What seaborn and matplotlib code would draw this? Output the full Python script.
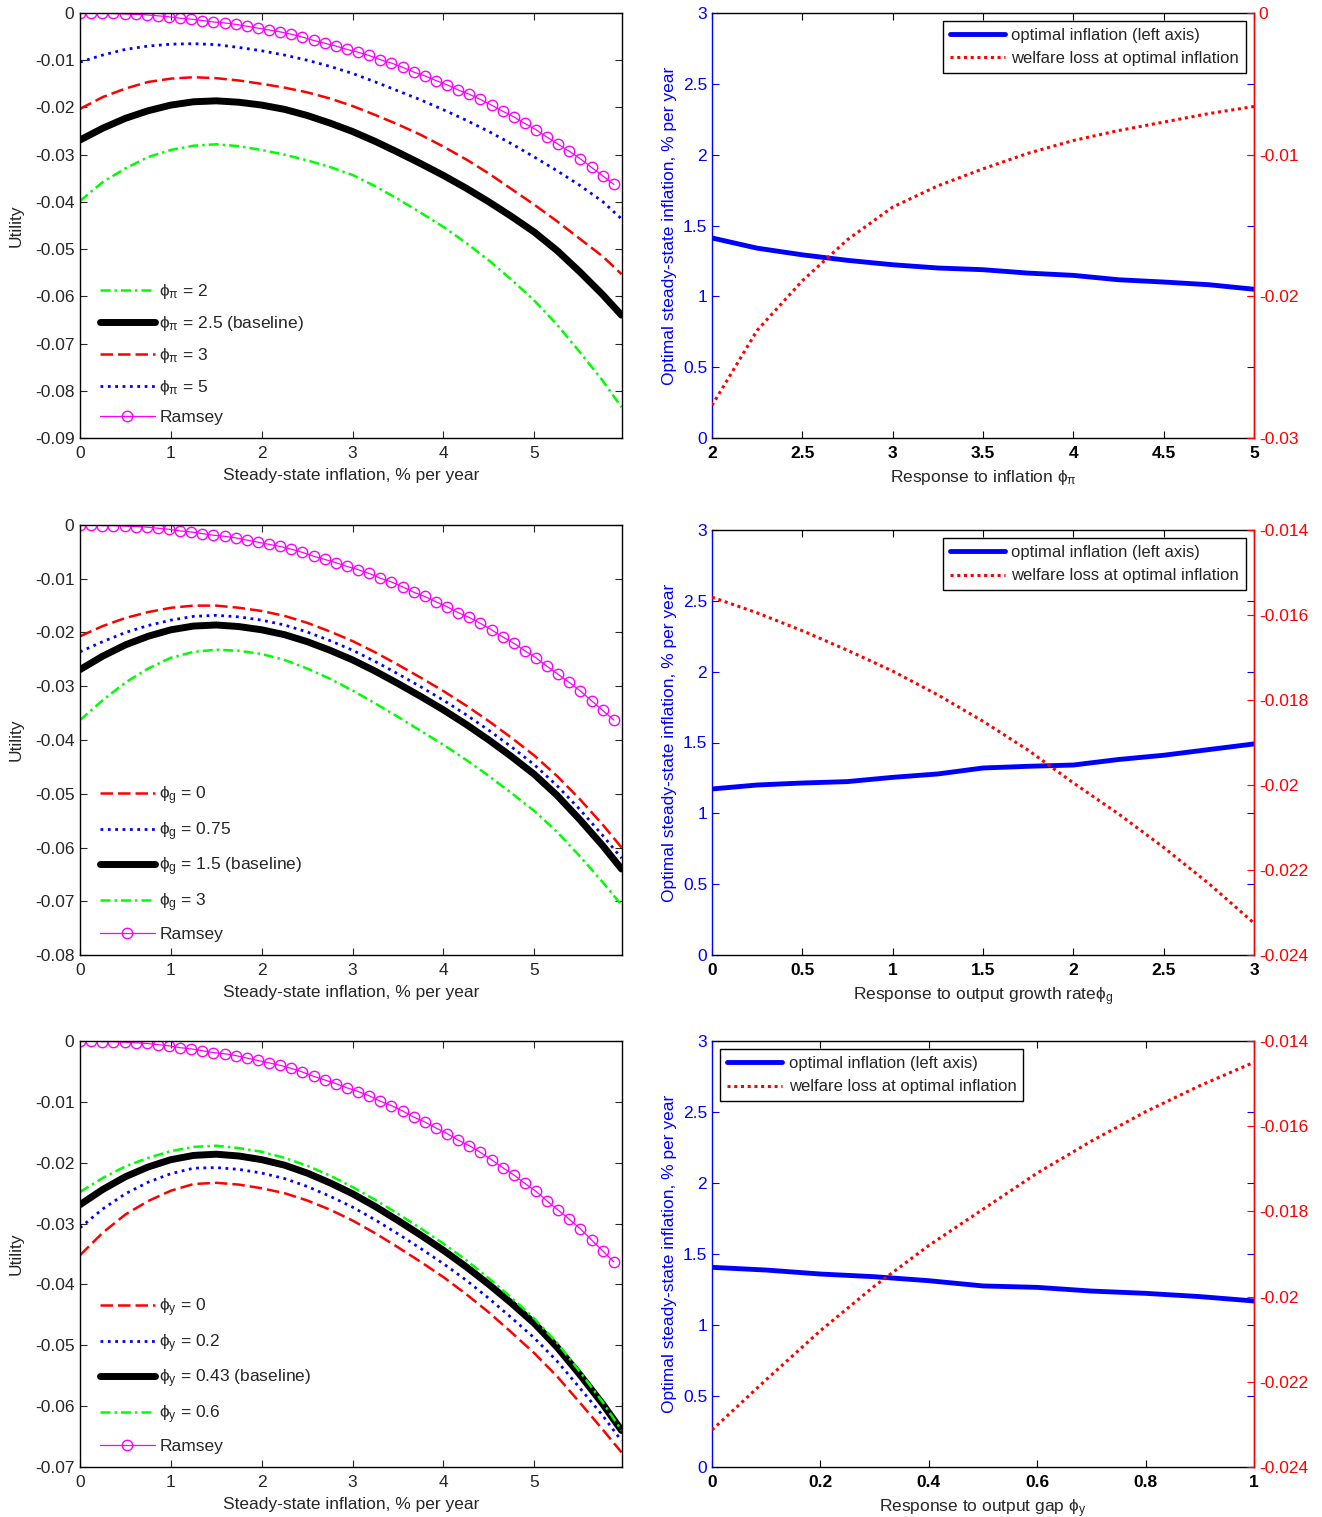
"""Welfare vs steady-state inflation under different Taylor-rule responses (3x2 panels)."""

import matplotlib
matplotlib.use("Agg")
import matplotlib.pyplot as plt
import seaborn as sns

# ---- data -----------------------------------------------------------------
# utility curves, left column (x = steady-state inflation, % per year)
infl_grid = [0.0, 0.25, 0.5, 0.75, 1.0, 1.25, 1.5, 1.75, 2.0, 2.25, 2.5, 2.75, 3.0,
             3.25, 3.5, 3.75, 4.0, 4.25, 4.5, 4.75, 5.0, 5.25, 5.5, 5.75, 5.96]

u_baseline = [-0.0269, -0.0244, -0.0223, -0.0207, -0.0195, -0.0188, -0.0186, -0.0189, -0.0195,
              -0.0204, -0.0217, -0.0233, -0.0251, -0.0272, -0.0295, -0.0319, -0.0344, -0.0371,
              -0.0400, -0.0431, -0.0464, -0.0503, -0.0548, -0.0596, -0.0640]

# panel 1: phi_pi
u_phipi_2 = [-0.0398, -0.0358, -0.0329, -0.0305, -0.0290, -0.0281, -0.0278, -0.0282, -0.0290,
             -0.0300, -0.0312, -0.0326, -0.0343, -0.0367, -0.0394, -0.0423, -0.0453, -0.0487,
             -0.0524, -0.0565, -0.0609, -0.0660, -0.0718, -0.0778, -0.0835]
u_phipi_3 = [-0.0203, -0.0178, -0.0160, -0.0146, -0.0139, -0.0136, -0.0138, -0.0143, -0.0150,
             -0.0158, -0.0168, -0.0181, -0.0197, -0.0216, -0.0236, -0.0258, -0.0283, -0.0310,
             -0.0340, -0.0373, -0.0406, -0.0441, -0.0478, -0.0515, -0.0553]
u_phipi_5 = [-0.0104, -0.0089, -0.0077, -0.0070, -0.0066, -0.0065, -0.0067, -0.0073, -0.0080,
             -0.0089, -0.0100, -0.0113, -0.0128, -0.0146, -0.0165, -0.0184, -0.0205, -0.0227,
             -0.0251, -0.0277, -0.0305, -0.0334, -0.0365, -0.0399, -0.0436]

# panel 2: phi_g
u_phig_0 = [-0.0207, -0.0188, -0.0173, -0.0162, -0.0154, -0.0150, -0.0150, -0.0154, -0.0160,
            -0.0169, -0.0182, -0.0198, -0.0216, -0.0237, -0.0260, -0.0284, -0.0309, -0.0336,
            -0.0365, -0.0396, -0.0429, -0.0467, -0.0510, -0.0557, -0.0600]
u_phig_075 = [-0.0236, -0.0217, -0.0200, -0.0187, -0.0177, -0.0170, -0.0168, -0.0171, -0.0177,
              -0.0186, -0.0199, -0.0215, -0.0233, -0.0254, -0.0277, -0.0301, -0.0326, -0.0353,
              -0.0382, -0.0413, -0.0446, -0.0485, -0.0529, -0.0577, -0.0620]
u_phig_3 = [-0.0363, -0.0326, -0.0293, -0.0267, -0.0247, -0.0236, -0.0232, -0.0234, -0.0240,
            -0.0251, -0.0267, -0.0286, -0.0308, -0.0332, -0.0357, -0.0383, -0.0409, -0.0437,
            -0.0467, -0.0499, -0.0532, -0.0571, -0.0616, -0.0664, -0.0707]

# panel 3: phi_y
u_phiy_0 = [-0.0352, -0.0315, -0.0285, -0.0263, -0.0246, -0.0235, -0.0233, -0.0236, -0.0242,
            -0.0250, -0.0262, -0.0277, -0.0295, -0.0316, -0.0339, -0.0363, -0.0388, -0.0416,
            -0.0446, -0.0479, -0.0513, -0.0551, -0.0594, -0.0638, -0.0676]
u_phiy_02 = [-0.0307, -0.0276, -0.0251, -0.0232, -0.0218, -0.0209, -0.0208, -0.0211, -0.0217,
             -0.0226, -0.0239, -0.0255, -0.0273, -0.0294, -0.0317, -0.0341, -0.0366, -0.0393,
             -0.0423, -0.0455, -0.0488, -0.0526, -0.0570, -0.0615, -0.0657]
u_phiy_06 = [-0.0248, -0.0225, -0.0206, -0.0192, -0.0181, -0.0174, -0.0172, -0.0176, -0.0182,
             -0.0192, -0.0205, -0.0221, -0.0240, -0.0261, -0.0284, -0.0308, -0.0333, -0.0360,
             -0.0390, -0.0422, -0.0456, -0.0496, -0.0543, -0.0593, -0.0640]

# Ramsey benchmark (same in all three left panels)
ramsey_x = [0.000, 0.122, 0.245, 0.367, 0.490, 0.612, 0.734, 0.857, 0.979, 1.102, 1.224,
            1.346, 1.469, 1.591, 1.714, 1.836, 1.958, 2.081, 2.203, 2.326, 2.448, 2.570,
            2.693, 2.815, 2.938, 3.060, 3.182, 3.305, 3.427, 3.550, 3.672, 3.794, 3.917,
            4.039, 4.162, 4.284, 4.406, 4.529, 4.651, 4.774, 4.896, 5.018, 5.141, 5.263,
            5.386, 5.508, 5.630, 5.753, 5.875]
ramsey_u = [0.0000, -0.0000, -0.0001, -0.0001, -0.0002, -0.0003, -0.0004, -0.0006, -0.0008,
            -0.0011, -0.0013, -0.0016, -0.0019, -0.0021, -0.0024, -0.0028, -0.0032, -0.0036,
            -0.0040, -0.0045, -0.0051, -0.0058, -0.0064, -0.0070, -0.0077, -0.0083, -0.0090,
            -0.0099, -0.0106, -0.0115, -0.0125, -0.0133, -0.0143, -0.0152, -0.0163, -0.0172,
            -0.0183, -0.0195, -0.0208, -0.0220, -0.0234, -0.0247, -0.0263, -0.0278, -0.0293,
            -0.0309, -0.0327, -0.0345, -0.0363]

# right column: optimal inflation (left axis) and welfare loss (right axis)
phipi_grid = [2.0, 2.25, 2.5, 2.75, 3.0, 3.25, 3.5, 3.75, 4.0, 4.25, 4.5, 4.75, 5.0]
opt_phipi = [1.412, 1.340, 1.293, 1.254, 1.223, 1.200, 1.188, 1.164, 1.148, 1.117, 1.101, 1.082, 1.050]
loss_phipi = [-0.0277, -0.0224, -0.0189, -0.0160, -0.0137, -0.0122, -0.0110, -0.0099, -0.0090,
              -0.0083, -0.0077, -0.0071, -0.0066]

phig_grid = [0.0, 0.25, 0.5, 0.75, 1.0, 1.25, 1.5, 1.75, 2.0, 2.25, 2.5, 2.75, 3.0]
opt_phig = [1.172, 1.200, 1.214, 1.224, 1.254, 1.278, 1.320, 1.332, 1.341, 1.380, 1.410, 1.450, 1.490]
loss_phig = [-0.01558, -0.01595, -0.01637, -0.01683, -0.01732, -0.01788, -0.01850, -0.01918,
             -0.01995, -0.02068, -0.02147, -0.02232, -0.02325]

phiy_grid = [0.0, 0.1, 0.2, 0.3, 0.4, 0.5, 0.6, 0.7, 0.8, 0.9, 1.0]
opt_phiy = [1.406, 1.387, 1.359, 1.340, 1.312, 1.275, 1.265, 1.239, 1.223, 1.200, 1.169]
loss_phiy = [-0.02313, -0.02195, -0.02080, -0.01975, -0.01880, -0.01795, -0.01710, -0.01635,
             -0.01566, -0.01505, -0.01450]

FS = 12.5
DASH = (0, (5, 2))
DASHDOT = (0, (4, 1.6, 1, 1.6))


def left_panel(ax, curves, ymin, yticks, yticklabels):
    """Utility vs steady-state inflation for a set of rule coefficients."""
    for label, vals, color, ls, lw in curves:
        sns.lineplot(x=infl_grid, y=vals, color=color, linestyle=ls, lw=lw, label=label, ax=ax)
    sns.lineplot(x=ramsey_x, y=ramsey_u, color="magenta", lw=0.9, marker="o", markersize=7.5,
                 markerfacecolor="none", markeredgecolor="magenta", markeredgewidth=1.0,
                 label="Ramsey", ax=ax)
    ax.set_xlim(0, 5.965)
    ax.set_ylim(ymin, 0)
    ax.set_xticks([0, 1, 2, 3, 4, 5])
    ax.set_xticklabels(["0", "1", "2", "3", "4", "5"], fontsize=FS)
    ax.set_yticks(yticks)
    ax.set_yticklabels(yticklabels, fontsize=FS)
    ax.tick_params(direction="in", top=True, right=True, bottom=True, left=True, length=5)
    ax.tick_params(axis="x", pad=6)
    ax.tick_params(axis="y", pad=4)
    ax.set_xlabel("Steady-state inflation, % per year", fontsize=FS, labelpad=5)
    ax.set_ylabel("Utility", fontsize=FS, labelpad=8)
    for sp in ax.spines.values():
        sp.set_color("black")
        sp.set_linewidth(1.0)
    ax.legend(loc="lower left", bbox_to_anchor=(0.012, 0.0), frameon=False, fontsize=FS,
              handlelength=3.2, labelspacing=0.75, borderaxespad=0.35, handletextpad=0.25)


def right_panel(ax, x, opt, loss, xticks, xticklabels, rlim, rticks, rlabels, xlabel, loc):
    """Optimal inflation (left) and welfare loss at the optimum (right)."""
    sns.lineplot(x=x, y=opt, color="blue", lw=3.5, label="optimal inflation (left axis)", ax=ax)
    ax2 = ax.twinx()
    sns.lineplot(x=x, y=loss, color="red", lw=2.2, linestyle=(0, (1, 1.2)),
                 label="welfare loss at optimal inflation", ax=ax2)
    ax.set_xlim(xticks[0], xticks[-1])
    ax.set_ylim(0, 3)
    ax.set_xticks(xticks)
    ax.set_xticklabels(xticklabels, fontsize=FS, fontweight="bold")
    ax.set_yticks([0, 0.5, 1, 1.5, 2, 2.5, 3])
    ax.set_yticklabels(["0", "0.5", "1", "1.5", "2", "2.5", "3"], fontsize=FS)
    ax.tick_params(axis="x", direction="in", top=True, bottom=True, length=5, colors="black", pad=6)
    ax.tick_params(axis="y", direction="in", left=True, right=True, length=5, colors="blue")
    ax.set_ylabel("Optimal steady-state inflation, % per year", fontsize=FS, color="blue",
                  labelpad=4)
    ax.set_xlabel(xlabel, fontsize=FS, labelpad=5)
    ax2.set_ylim(*rlim)
    ax2.set_yticks(rticks)
    ax2.set_yticklabels(rlabels, fontsize=FS)
    ax2.set_ylabel("")
    ax2.tick_params(axis="y", direction="in", right=True, length=5, colors="red")
    ax.spines["left"].set_color("blue")
    ax.spines["right"].set_color("red")
    ax.spines["top"].set_color("black")
    ax.spines["bottom"].set_color("black")
    for name in ["left", "top", "bottom"]:
        ax2.spines[name].set_visible(False)
    ax2.spines["right"].set_color("red")
    h1, l1 = ax.get_legend_handles_labels()
    h2, l2 = ax2.get_legend_handles_labels()
    ax.get_legend().remove()
    leg = ax2.legend(h1 + h2, l1 + l2, loc=loc, fontsize=FS - 0.5, fancybox=False,
                     framealpha=1, edgecolor="black", handlelength=3.3, borderpad=0.4,
                     labelspacing=0.5, handletextpad=0.4, borderaxespad=0.5)
    leg.get_frame().set_linewidth(1.0)


def main():
    sns.set_style("ticks")
    plt.rcParams["font.family"] = ["Liberation Sans", "DejaVu Sans"]
    plt.rcParams["mathtext.default"] = "regular"
    plt.rcParams["axes.linewidth"] = 1.0

    fig = plt.figure(figsize=(13.22, 15.17), dpi=100)
    W, H = 1322.0, 1517.0

    def add(x0, y0, x1, y1):
        return fig.add_axes([x0 / W, 1 - y1 / H, (x1 - x0) / W, (y1 - y0) / H])

    # left column
    ax = add(80, 13, 622, 438)
    left_panel(ax, [
        (r"$\phi_\pi$ = 2", u_phipi_2, "#00ff00", DASHDOT, 1.8),
        (r"$\phi_\pi$ = 2.5 (baseline)", u_baseline, "black", "-", 5.0),
        (r"$\phi_\pi$ = 3", u_phipi_3, "red", DASH, 1.8),
        (r"$\phi_\pi$ = 5", u_phipi_5, "blue", ":", 2.0),
    ], -0.09, [-0.09, -0.08, -0.07, -0.06, -0.05, -0.04, -0.03, -0.02, -0.01, 0],
        ["-0.09", "-0.08", "-0.07", "-0.06", "-0.05", "-0.04", "-0.03", "-0.02", "-0.01", "0"])

    ax = add(80, 525, 622, 955)
    left_panel(ax, [
        (r"$\phi_g$ = 0", u_phig_0, "red", DASH, 1.8),
        (r"$\phi_g$ = 0.75", u_phig_075, "blue", ":", 2.0),
        (r"$\phi_g$ = 1.5 (baseline)", u_baseline, "black", "-", 5.0),
        (r"$\phi_g$ = 3", u_phig_3, "#00ff00", DASHDOT, 1.8),
    ], -0.08, [-0.08, -0.07, -0.06, -0.05, -0.04, -0.03, -0.02, -0.01, 0],
        ["-0.08", "-0.07", "-0.06", "-0.05", "-0.04", "-0.03", "-0.02", "-0.01", "0"])

    ax = add(80, 1041, 622, 1467)
    left_panel(ax, [
        (r"$\phi_y$ = 0", u_phiy_0, "red", DASH, 1.8),
        (r"$\phi_y$ = 0.2", u_phiy_02, "blue", ":", 2.0),
        (r"$\phi_y$ = 0.43 (baseline)", u_baseline, "black", "-", 5.0),
        (r"$\phi_y$ = 0.6", u_phiy_06, "#00ff00", DASHDOT, 1.8),
    ], -0.07, [-0.07, -0.06, -0.05, -0.04, -0.03, -0.02, -0.01, 0],
        ["-0.07", "-0.06", "-0.05", "-0.04", "-0.03", "-0.02", "-0.01", "0"])

    # right column
    small = [-0.024, -0.022, -0.020, -0.018, -0.016, -0.014]
    small_lbl = ["-0.024", "-0.022", "-0.02", "-0.018", "-0.016", "-0.014"]

    ax = add(712, 13, 1254, 438)
    right_panel(ax, phipi_grid, opt_phipi, loss_phipi,
                [2, 2.5, 3, 3.5, 4, 4.5, 5], ["2", "2.5", "3", "3.5", "4", "4.5", "5"],
                (-0.03, 0), [-0.03, -0.02, -0.01, 0], ["-0.03", "-0.02", "-0.01", "0"],
                r"Response to inflation $\phi_\pi$", "upper right")

    ax = add(712, 530, 1254, 955)
    right_panel(ax, phig_grid, opt_phig, loss_phig,
                [0, 0.5, 1, 1.5, 2, 2.5, 3], ["0", "0.5", "1", "1.5", "2", "2.5", "3"],
                (-0.024, -0.014), small, small_lbl,
                r"Response to output growth rate$\phi_g$", "upper right")

    ax = add(712, 1041, 1254, 1467)
    right_panel(ax, phiy_grid, opt_phiy, loss_phiy,
                [0, 0.2, 0.4, 0.6, 0.8, 1.0], ["0", "0.2", "0.4", "0.6", "0.8", "1"],
                (-0.024, -0.014), small, small_lbl,
                r"Response to output gap $\phi_y$", "upper left")

    fig.savefig("out.png", dpi=100)
    plt.close(fig)


if __name__ == "__main__":
    main()
